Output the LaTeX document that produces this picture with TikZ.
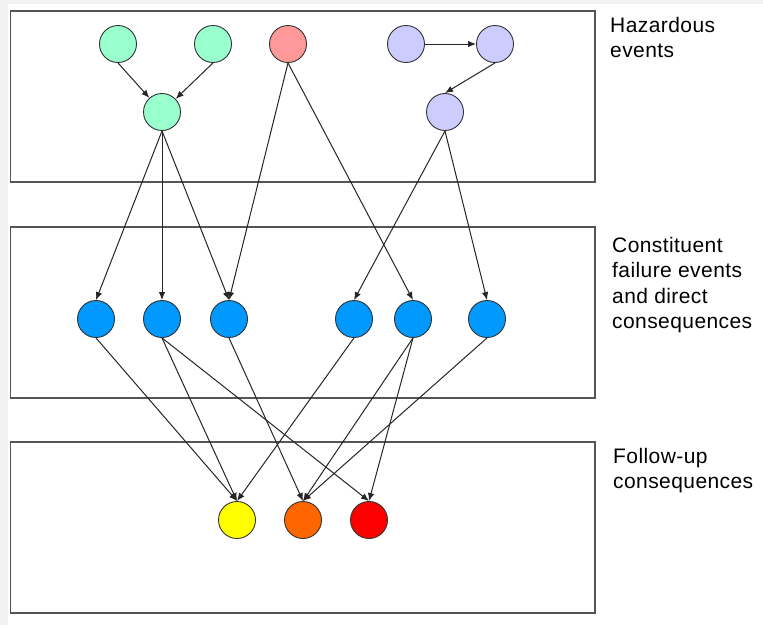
\documentclass[tikz,border=0pt]{standalone}
\usepackage{fontspec}
\setmainfont{Liberation Sans}[LetterSpace=2]
\usetikzlibrary{arrows.meta}

\definecolor{hazgreen}{HTML}{99FFCC}
\definecolor{hazred}{HTML}{FF9999}
\definecolor{hazlav}{HTML}{CCCCFF}
\definecolor{consblue}{HTML}{0099FF}
\definecolor{fuyellow}{HTML}{FFFF00}
\definecolor{fuorange}{HTML}{FF6600}
\definecolor{fured}{HTML}{FF0000}
\definecolor{framegray}{HTML}{555555}
\definecolor{edgegray}{HTML}{F2F2F2}

\tikzset{
  ev/.style={circle, draw=black!80, line width=0.9pt, minimum size=37pt, inner sep=0pt},
  layer/.style={draw=framegray, line width=1.2pt},
  link/.style={draw=black!85, line width=1pt, -{Latex[length=8pt,width=6.5pt]}},
  caption/.style={anchor=north west, inner sep=0pt, align=left,
    font=\fontsize{21}{25.3}\selectfont}
}

\begin{document}
\begin{tikzpicture}[x=1pt, y=-1pt]
  \useasboundingbox (0,0) rectangle (763,625);
  \fill[white] (0,0) rectangle (763,625);
  % light window edge along the top and left
  \fill[edgegray] (0,0) rectangle (763,4);
  \fill[edgegray] (0,0) rectangle (8,625);

  % the three layers
  \draw[layer] (10.5,11) rectangle (595,182);
  \draw[layer] (10.5,227) rectangle (595,398);
  \draw[layer] (10.5,442) rectangle (595,613);

  \node[caption] (capH) at (610,17) {Hazardous\\events};
  \node[caption] (capC) at (612,237) {Constituent\\failure events\\and direct\\consequences};
  \node[caption] (capF) at (613,448) {Follow-up\\consequences};

  % hazardous events
  \node[ev, fill=hazgreen] (g1) at (118,44) {};
  \node[ev, fill=hazgreen] (g2) at (213,44) {};
  \node[ev, fill=hazred]   (r1) at (288,44) {};
  \node[ev, fill=hazlav]   (l1) at (406,44) {};
  \node[ev, fill=hazlav]   (l2) at (495,44) {};
  \node[ev, fill=hazgreen] (g3) at (162,112) {};
  \node[ev, fill=hazlav]   (l3) at (445,112) {};

  % constituent failure events
  \node[ev, fill=consblue] (b1) at (96,319) {};
  \node[ev, fill=consblue] (b2) at (162,319) {};
  \node[ev, fill=consblue] (b3) at (229,319) {};
  \node[ev, fill=consblue] (b4) at (354,319) {};
  \node[ev, fill=consblue] (b5) at (413,319) {};
  \node[ev, fill=consblue] (b6) at (487,319) {};

  % follow-up consequences
  \node[ev, fill=fuyellow] (f1) at (237,520) {};
  \node[ev, fill=fuorange] (f2) at (303,520) {};
  \node[ev, fill=fured]    (f3) at (369,520) {};

  % links inside the hazard layer
  \draw[link] (g1.south) -- (g3);
  \draw[link] (g2.south) -- (g3);
  \draw[link] (l1) -- (l2);
  \draw[link] (l2.south) -- (l3.north);

  % hazards to constituent failures
  \draw[link] (g3.south) -- (b1.north);
  \draw[link] (g3.south) -- (b2.north);
  \draw[link] (g3.south) -- (b3.north);
  \draw[link] (r1.south) -- (b3.north);
  \draw[link] (r1.south) -- (b5.north);
  \draw[link] (l3.south) -- (b4.north);
  \draw[link] (l3.south) -- (b6.north);

  % constituent failures to follow-up consequences
  \draw[link] (b1.south) -- (f1.north);
  \draw[link] (b2.south) -- (f1.north);
  \draw[link] (b2.south) -- (f3.north);
  \draw[link] (b3.south) -- (f2.north);
  \draw[link] (b4.south) -- (f1.north);
  \draw[link] (b5.south) -- (f2.north);
  \draw[link] (b5.south) -- (f3.north);
  \draw[link] (b6.south) -- (f2.north);
\end{tikzpicture}
\end{document}
